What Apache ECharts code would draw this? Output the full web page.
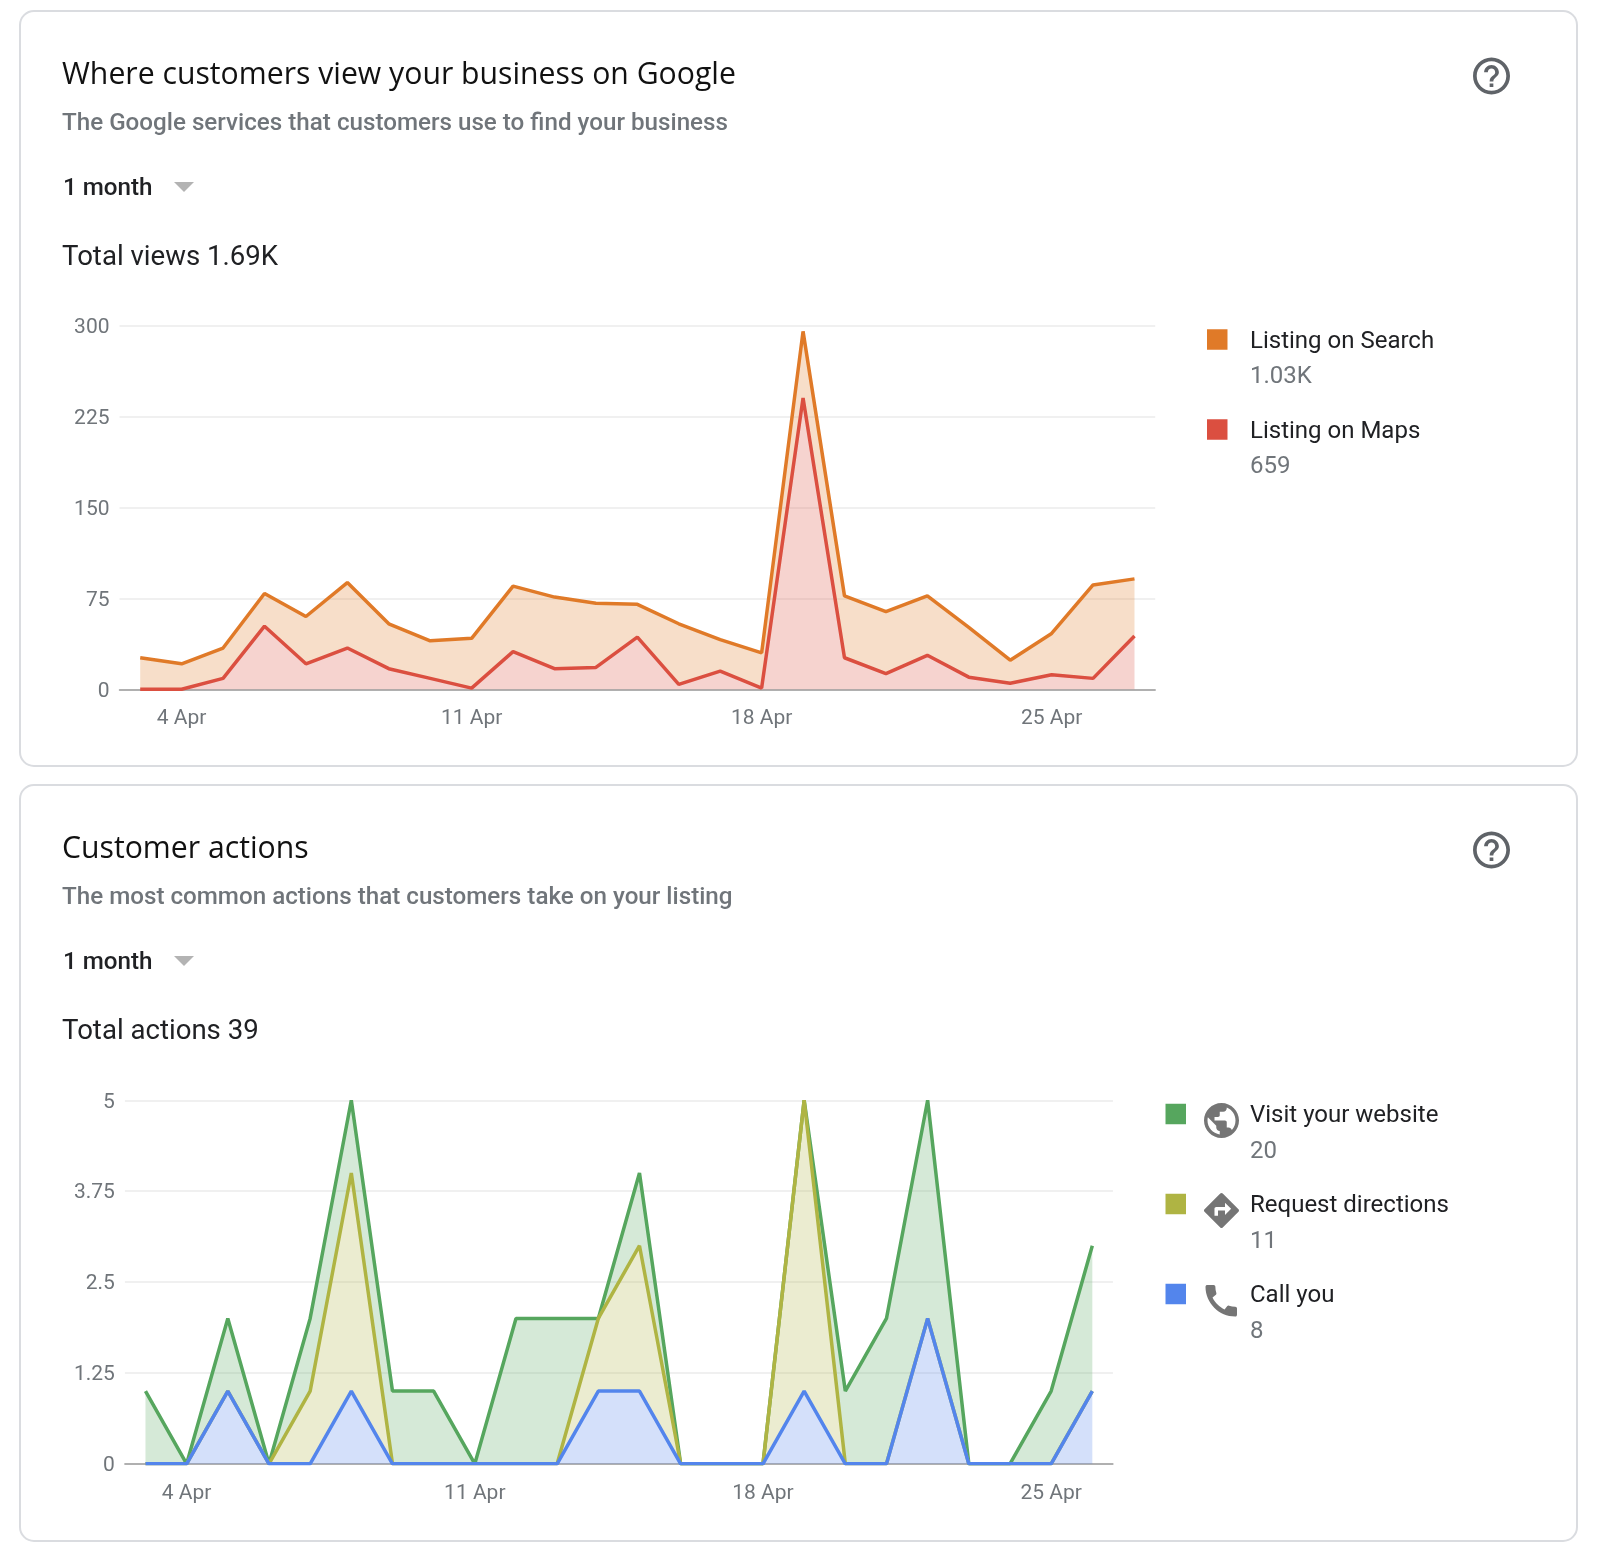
<!DOCTYPE html>
<html>
<head>
<meta charset="utf-8">
<title>Google business insights</title>
<script src="https://cdn.jsdelivr.net/npm/echarts@6/dist/echarts.min.js"></script>
<style>
  html, body { margin: 0; padding: 0; background: #fff; }
  #main { width: 1600px; height: 1557px; }
</style>
</head>
<body>
<div id="main"></div>
<script>
// views chart, 3 Apr - 27 Apr
const viewDays = ['3 Apr','4 Apr','5 Apr','6 Apr','7 Apr','8 Apr','9 Apr','10 Apr','11 Apr','12 Apr','13 Apr','14 Apr','15 Apr','16 Apr','17 Apr','18 Apr','19 Apr','20 Apr','21 Apr','22 Apr','23 Apr','24 Apr','25 Apr','26 Apr','27 Apr'];
const listingMaps   = [0,0,9,52,21,34,17,9,1,31,17,18,43,4,15,1,240,26,13,28,10,5,12,9,44];
const listingSearch = [26,21,25,27,39,54,37,31,41,54,59,53,27,50,26,29,55,51,51,49,41,19,34,77,47];
const viewNames  = ['Listing on Search','Listing on Maps'];
const viewCounts = ['1.03K','659'];

// actions chart, 3 Apr - 26 Apr
const actionDays = ['3 Apr','4 Apr','5 Apr','6 Apr','7 Apr','8 Apr','9 Apr','10 Apr','11 Apr','12 Apr','13 Apr','14 Apr','15 Apr','16 Apr','17 Apr','18 Apr','19 Apr','20 Apr','21 Apr','22 Apr','23 Apr','24 Apr','25 Apr','26 Apr'];
const callYou    = [0,0,1,0,0,1,0,0,0,0,0,1,1,0,0,0,1,0,0,2,0,0,0,1];
const directions = [0,0,0,0,1,3,0,0,0,0,0,1,2,0,0,0,4,0,0,0,0,0,0,0];
const website    = [1,0,1,0,1,1,1,1,0,2,2,0,1,0,0,0,0,1,2,3,0,0,1,2];
const actionNames  = ['Visit your website','Request directions','Call you'];
const actionCounts = ['20','11','8'];

const FONT = 'Roboto';
const INK = '#202124';
const GREY = '#70757a';
const ICON = '#757575';

const ICON_HELP = 'M11 18h2v-2h-2v2zm1-16C6.48 2 2 6.48 2 12s4.48 10 10 10 10-4.48 10-10S17.52 2 12 2zm0 18c-4.41 0-8-3.59-8-8s3.59-8 8-8 8 3.59 8 8-3.59 8-8 8zm0-14c-2.21 0-4 1.79-4 4h2c0-1.1.9-2 2-2s2 .9 2 2c0 2-3 1.75-3 5h2c0-2.25 3-2.5 3-5 0-2.21-1.79-4-4-4z';
const ICON_GLOBE = 'M12 2C6.48 2 2 6.48 2 12s4.48 10 10 10 10-4.48 10-10S17.52 2 12 2zm-1 17.93c-3.95-.49-7-3.85-7-7.93 0-.62.08-1.21.21-1.79L9 15v1c0 1.1.9 2 2 2v1.93zm6.9-2.54c-.26-.81-1-1.39-1.9-1.39h-1v-3c0-.55-.45-1-1-1H8v-2h2c.55 0 1-.45 1-1V7h2c1.1 0 2-.9 2-2v-.41c2.93 1.19 5 4.06 5 7.41 0 2.08-.8 3.97-2.1 5.39z';
const ICON_DIRECTIONS = 'M21.71 11.29l-9-9c-.39-.39-1.02-.39-1.41 0l-9 9c-.39.39-.39 1.02 0 1.41l9 9c.39.39 1.02.39 1.41 0l9-9c.39-.38.39-1.01 0-1.41zM14 14.5V12h-4v3H8v-4c0-.55.45-1 1-1h5V7.5l3.5 3.5-3.5 3.5z';
const ICON_PHONE = 'M20.01 15.38c-1.23 0-2.42-.2-3.53-.56-.35-.12-.74-.03-1.01.24l-1.57 1.97c-2.83-1.35-5.48-3.9-6.89-6.83l1.95-1.66c.27-.28.35-.67.24-1.02-.37-1.11-.56-2.3-.56-3.53 0-.54-.45-.99-.99-.99H4.19C3.65 3 3 3.24 3 3.99 3 13.28 10.73 21 20.01 21c.71 0 .99-.63.99-1.18v-3.45c0-.54-.45-.99-.99-.99z';

function label(text, x, y, size, color, weight, family) {
    return {
        type: 'text', x: x, y: y, silent: true,
        style: { text: text, fill: color, fontSize: size, fontWeight: weight || 400,
                 fontFamily: family || FONT, verticalAlign: 'middle' }
    };
}

// graphic component has no path element, so icons go through a custom series
function icon(path, x, y, w, h, color) {
    return {
        type: 'path', silent: true,
        shape: { pathData: path, layout: 'cover', x: x, y: y, width: w, height: h },
        style: { fill: color || ICON }
    };
}

// card furniture, dy shifts it down for the second card
function card(top, height, dy, title, sub, total) {
    return [
        { type: 'rect', silent: true, z: -10, shape: { x: 20, y: top, width: 1557, height: height, r: 14 },
          style: { fill: '#fff', stroke: '#dadce0', lineWidth: 2 } },
        label(title, 62, 75 + dy, 30.2, '#111', 400, 'Open Sans'),
        label(sub, 62, 124 + dy, 24.2, GREY, 500),
        label('1 month', 63, 189 + dy, 24.2, INK, 500),
        { type: 'polygon', silent: true, shape: { points: [[174, 182 + dy], [194, 182 + dy], [184, 192 + dy]] },
          style: { fill: '#b3b3b3' } },
        label(total, 62, 258 + dy, 27.6, INK, 400)
    ];
}

function axisX(days, gridIndex) {
    const every7 = function (i) { return (i - 1) % 7 === 0; };
    return {
        type: 'category', gridIndex: gridIndex, data: days, boundaryGap: true,
        axisLine: { lineStyle: { color: '#9a9a9a', width: 1.5 } },
        axisTick: { alignWithLabel: true, interval: every7, length: 10, lineStyle: { color: '#9a9a9a', width: 1.5 } },
        axisLabel: { interval: every7, color: GREY, fontFamily: FONT, fontSize: 21, margin: 19 },
        splitLine: { show: false }
    };
}

function axisY(max, interval, gridIndex) {
    return {
        type: 'value', gridIndex: gridIndex, min: 0, max: max, interval: interval,
        axisLine: { show: false }, axisTick: { show: false },
        axisLabel: {
            margin: 10, formatter: '{v|{value}}',
            rich: { v: { color: GREY, fontFamily: FONT, fontSize: 21, lineHeight: 24, padding: [4, 0, 0, 0] } }
        },
        splitLine: { lineStyle: { color: '#ebebeb', width: 1.5 } }
    };
}

function area(name, values, color, axis, stack, z) {
    return {
        name: name, type: 'line', data: values, xAxisIndex: axis, yAxisIndex: axis,
        stack: stack, z: z, symbol: 'none', smooth: false,
        lineStyle: { color: color, width: 3.5, join: 'bevel' },
        itemStyle: { color: color },
        areaStyle: { color: color, opacity: 0.25 }
    };
}

function legend(names, left, top, pad) {
    return {
        data: names, orient: 'vertical', left: left, top: top, padding: 0,
        icon: 'rect', itemWidth: 20.5, itemHeight: 20.5, itemGap: 62, selectedMode: false,
        formatter: '{n|{name}}',
        textStyle: { rich: { n: { color: INK, fontFamily: FONT, fontSize: 24, lineHeight: 24, padding: [4, 0, 0, pad] } } }
    };
}

const furniture = [].concat(
    card(11, 755, 0, 'Where customers view your business on Google', 'The Google services that customers use to find your business', 'Total views 1.69K'),
    card(785, 756, 774, 'Customer actions', 'The most common actions that customers take on your listing', 'Total actions 39'),
    viewCounts.map(function (c, i) { return label(c, 1250, 377 + i * 90, 24, GREY); }),
    actionCounts.map(function (c, i) { return label(c, 1250, 1152 + i * 90, 24, GREY); })
);

const icons = [
    icon(ICON_HELP, 1473, 57.5, 37, 37, '#5f6368'),
    icon(ICON_HELP, 1473, 831.5, 37, 37, '#5f6368'),
    icon(ICON_GLOBE, 1204, 1103, 35, 35),
    icon(ICON_DIRECTIONS, 1204, 1193, 35, 35),
    icon(ICON_PHONE, 1205.5, 1285, 31.5, 31.5)
];

const chart = echarts.init(document.getElementById('main'));
chart.setOption({
    animation: false,
    backgroundColor: '#fff',
    textStyle: { fontFamily: FONT },
    grid: [
        { left: 119.5, top: 325.3, width: 1035.7, height: 364 },
        { left: 124.9, top: 1100.3, width: 988, height: 363.5 }
    ],
    xAxis: [axisX(viewDays, 0), axisX(actionDays, 1)],
    yAxis: [axisY(300, 75, 0), axisY(5, 1.25, 1)],
    legend: [legend(viewNames, 1207, 325.5, 17.5), legend(actionNames, 1165.5, 1100, 59)],
    series: [
        area('Listing on Maps', listingMaps, '#db4f40', 0, 'views', 3),
        area('Listing on Search', listingSearch, '#e07a28', 0, 'views', 2),
        area('Call you', callYou, '#5385ec', 1, 'actions', 5),
        area('Request directions', directions, '#afb443', 1, 'actions', 4),
        area('Visit your website', website, '#56a65e', 1, 'actions', 3),
        { type: 'custom', coordinateSystem: 'none', silent: true, data: [0],
          renderItem: function () { return { type: 'group', children: icons }; } }
    ],
    graphic: { elements: furniture }
});
</script>
</body>
</html>
